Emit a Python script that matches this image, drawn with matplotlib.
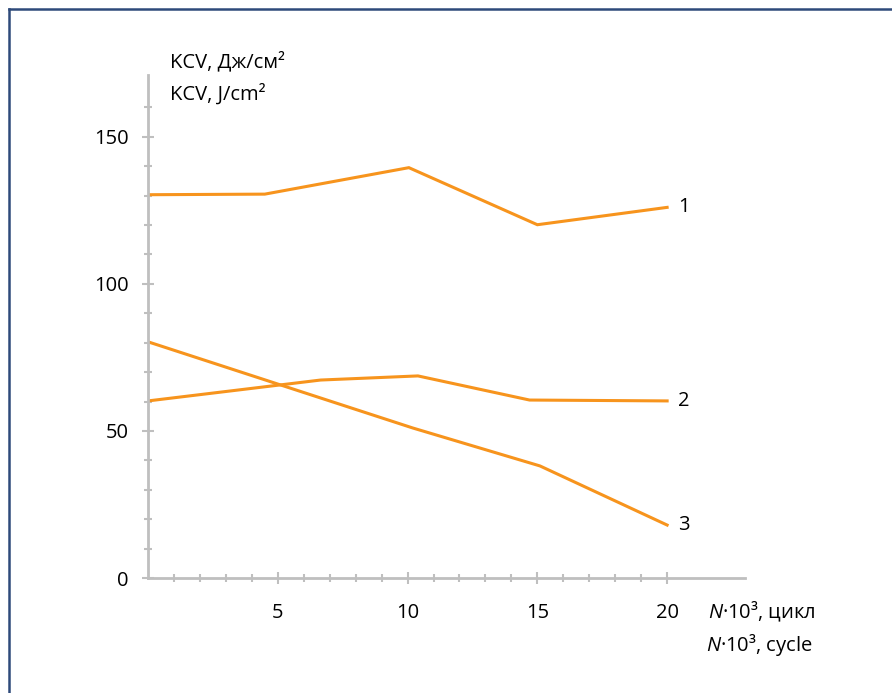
import matplotlib
matplotlib.use("Agg")
import matplotlib.pyplot as plt
from matplotlib.ticker import FixedLocator
import matplotlib.lines as mlines

# data
x1 = [0, 4.5, 10.05, 15, 20]
y1 = [130.3, 130.5, 139.5, 120.1, 126.0]
x2 = [0, 6.65, 10.4, 14.7, 20]
y2 = [60.2, 67.3, 68.7, 60.5, 60.2]
x3 = [0, 10.2, 15.1, 20]
y3 = [80.3, 51.0, 38.1, 18.0]
curve_labels = ["1", "2", "3"]
x_major = [5, 10, 15, 20]
y_major = [0, 50, 100, 150]

plt.rcParams['font.family'] = ['Open Sans', 'DejaVu Sans']
plt.rcParams['mathtext.fontset'] = 'custom'
plt.rcParams['mathtext.it'] = 'Open Sans:italic'
plt.rcParams['mathtext.rm'] = 'Open Sans'

orange = '#F7941D'
grey = '#BFBFBF'
fs = 14.5

fig = plt.figure(figsize=(8.92, 6.93), dpi=100)
ax = fig.add_axes([148 / 892, 115 / 693, (745 - 148) / 892, (578 - 75) / 693])

for xs, ys, lab in zip([x1, x2, x3], [y1, y2, y3], curve_labels):
    ax.plot(xs, ys, color=orange, lw=2.2, solid_joinstyle='miter')
    ax.text(xs[-1] + 0.65, ys[-1], lab, fontsize=fs, ha='center', va='center')

ax.set_xlim(0, 23)
ax.set_ylim(0, 171)

for s in ['top', 'right']:
    ax.spines[s].set_visible(False)
for s in ['left', 'bottom']:
    ax.spines[s].set_color(grey)
    ax.spines[s].set_linewidth(2)

ax.xaxis.set_major_locator(FixedLocator(x_major))
ax.xaxis.set_minor_locator(FixedLocator([v for v in range(1, 20) if v % 5 != 0]))
ax.yaxis.set_major_locator(FixedLocator(y_major))
ax.yaxis.set_minor_locator(FixedLocator([v for v in range(10, 170, 10) if v % 50 != 0]))

ax.tick_params(which='major', direction='inout', length=8, width=1.5, color=grey,
               labelsize=fs)
ax.tick_params(which='minor', direction='inout', length=6, width=1.5, color=grey)
ax.tick_params(axis='x', which='major', pad=14)
ax.tick_params(axis='y', which='major', pad=10)

fig.text(170 / 892, 1 - 62 / 693, 'KCV, Дж/см²', fontsize=fs, ha='left', va='center')
fig.text(170 / 892, 1 - 94 / 693, 'KCV, J/cm²', fontsize=fs, ha='left', va='center')
fig.text(708 / 892, 1 - 612 / 693, '$N$·10³, цикл', fontsize=fs, ha='left', va='center')
fig.text(706 / 892, 1 - 645 / 693, '$N$·10³, cycle', fontsize=fs, ha='left', va='center')

# frame around the figure (top and left visible)
navy = '#2E4A7A'
fig.add_artist(mlines.Line2D([9 / 892, 1], [1 - 9 / 693, 1 - 9 / 693], color=navy, lw=1.8,
                             transform=fig.transFigure))
fig.add_artist(mlines.Line2D([9 / 892, 9 / 892], [0, 1 - 9 / 693], color=navy, lw=1.8,
                             transform=fig.transFigure))

fig.savefig('out.png', dpi=100)
